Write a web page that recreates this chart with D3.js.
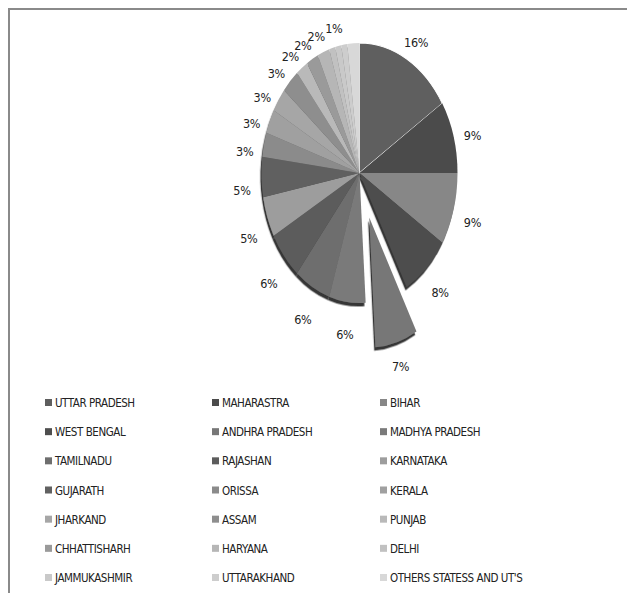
<!DOCTYPE html>
<html>
<head>
<meta charset="utf-8">
<script src="https://cdn.jsdelivr.net/npm/d3@7/dist/d3.min.js"></script>
<style>
  html, body { margin: 0; padding: 0; background: #fff; }
  svg { display: block; }
  text { font-family: "DejaVu Sans Condensed", "Liberation Sans Narrow", sans-serif; fill: #222; }
</style>
</head>
<body>
<svg id="chart" width="627" height="593"></svg>
<script>
// States in drawing order (clockwise from 12 o'clock)
const states = [
  "UTTAR PRADESH", "MAHARASTRA", "BIHAR",
  "WEST BENGAL", "ANDHRA PRADESH", "MADHYA PRADESH",
  "TAMILNADU", "RAJASHAN", "KARNATAKA",
  "GUJARATH", "ORISSA", "KERALA",
  "JHARKAND", "ASSAM", "PUNJAB",
  "CHHATTISHARH", "HARYANA", "DELHI",
  "JAMMUKASHMIR", "UTTARAKHAND", "OTHERS STATESS AND UT'S"
];

// Share of the total, in percent
const shares = [16, 9, 9, 8, 7, 6, 6, 6, 5, 5, 3, 3, 3, 3, 2, 2, 2, 1, 1, 1, 2];

// Which slices carry a percentage label
const labelled = [1, 1, 1, 1, 1, 1, 1, 1, 1, 1, 1, 1, 1, 1, 1, 1, 1, 0, 1, 0, 0];

// Slice fills
const fills = [
  "#5e5e5e", "#4b4b4b", "#878787",
  "#4e4e4e", "#777777", "#7a7a7a",
  "#6e6e6e", "#5c5c5c", "#9d9d9d",
  "#616161", "#8b8b8b", "#a0a0a0",
  "#a6a6a6", "#8e8e8e", "#b9b9b9",
  "#9a9a9a", "#b6b6b6", "#c1c1c1",
  "#c9c9c9", "#cdcdcd", "#d8d8d8"
];

// The pulled-out slice
const explodedState = "ANDHRA PRADESH";

const svg = d3.select("#chart");

// Frame lines (top and left)
svg.append("line").attr("x1", 8).attr("y1", 9).attr("x2", 627).attr("y2", 9)
  .attr("stroke", "#8a8a8a").attr("stroke-width", 2);
svg.append("line").attr("x1", 9).attr("y1", 8).attr("x2", 9).attr("y2", 593)
  .attr("stroke", "#8a8a8a").attr("stroke-width", 2);

// Drop shadow used by the pie
const defs = svg.append("defs");
const f = defs.append("filter").attr("id", "shadow")
  .attr("x", "-20%").attr("y", "-20%").attr("width", "140%").attr("height", "140%");
f.append("feDropShadow").attr("dx", -1.2).attr("dy", 2.6)
  .attr("stdDeviation", 0.5).attr("flood-color", "#2a2a2a").attr("flood-opacity", 0.95);

const data = states.map((s, i) => ({ state: s, value: shares[i], fill: fills[i], label: labelled[i] }));

// Elliptical pie: circle of radius rx, stretched vertically
const cx = 359.5, cy = 173, rx = 98, ry = 130;
const sy = ry / rx;
const explode = 35;

const pie = d3.pie().value(d => d.value).sort(null);
const arcs = pie(data);
const arc = d3.arc().innerRadius(0).outerRadius(rx);

const total = d3.sum(shares);
const pct = d3.format(".0%");

const g = svg.append("g")
  .attr("transform", `translate(${cx},${cy}) scale(1,${sy})`)
  .attr("filter", "url(#shadow)");

function offsetOf(a) {
  if (a.data.state !== explodedState) return [0, 0];
  const m = (a.startAngle + a.endAngle) / 2;
  return [Math.sin(m) * explode, -Math.cos(m) * explode];
}

g.selectAll("path.slice")
  .data(arcs)
  .join("path")
  .attr("class", "slice")
  .attr("d", arc)
  .attr("fill", d => d.data.fill)
  .attr("stroke", d => d.index === 0 ? "#fff" : "none")
  .attr("stroke-width", 0.8)
  .attr("transform", d => { const o = offsetOf(d); return `translate(${o[0]},${o[1]})`; });

// Percentage labels just outside the rim
const lf = 1.2;
const mid = d => (d.startAngle + d.endAngle) / 2;
svg.append("g").selectAll("text")
  .data(arcs.filter(a => a.data.label))
  .join("text")
  .attr("x", d => cx + offsetOf(d)[0] * 0.85 + Math.sin(mid(d)) * rx * lf)
  .attr("y", d => cy + (offsetOf(d)[1] * 0.85 - Math.cos(mid(d)) * rx * lf) * sy
                 + 6 + 7 * Math.max(0, -Math.sin(mid(d))))
  .attr("text-anchor", "middle")
  .attr("dominant-baseline", "central")
  .attr("font-size", 12.5)
  .attr("letter-spacing", -0.3)
  .text(d => pct(d.data.value / total));

// Legend: three columns, filled row by row
const cols = 3;
const colX = d3.scaleOrdinal().domain([0, 1, 2]).range([45, 212, 380]);
const rowY = d3.scaleLinear().domain([0, 6]).range([403, 578]);

const leg = svg.append("g").selectAll("g")
  .data(data)
  .join("g")
  .attr("transform", (d, i) => `translate(${colX(i % cols)},${rowY(Math.floor(i / cols))})`);

leg.append("rect").attr("x", 0).attr("y", -4).attr("width", 7).attr("height", 7)
  .attr("fill", d => d.fill);
leg.append("text").attr("x", 10).attr("y", 0)
  .attr("dominant-baseline", "central")
  .attr("font-size", 11.5)
  .attr("letter-spacing", -0.45)
  .text(d => d.state);
</script>
</body>
</html>
